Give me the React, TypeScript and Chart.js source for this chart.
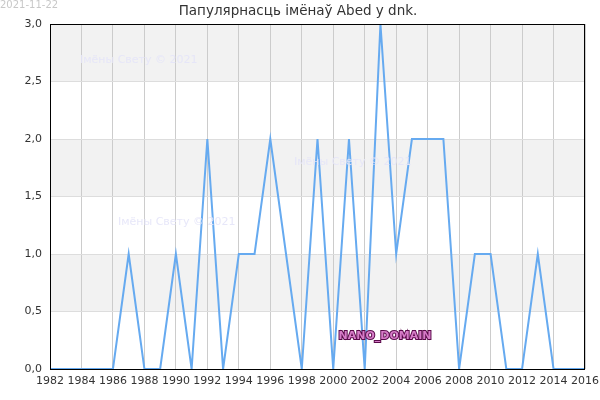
import React, { useEffect, useRef } from "react";
import { Chart, registerables } from "chart.js";

Chart.register(...registerables);

const years: number[] = [
  1982, 1983, 1984, 1985, 1986, 1987, 1988, 1989, 1990, 1991, 1992, 1993,
  1994, 1995, 1996, 1997, 1998, 1999, 2000, 2001, 2002, 2003, 2004, 2005,
  2006, 2007, 2008, 2009, 2010, 2011, 2012, 2013, 2014, 2015, 2016,
];
const values: number[] = [
  0, 0, 0, 0, 0, 1, 0, 0, 1, 0, 2, 0,
  1, 1, 2, 1, 0, 2, 0, 2, 0, 3, 1, 2,
  2, 2, 0, 1, 1, 0, 0, 1, 0, 0, 0,
];
const titleText = "Папулярнасць імёнаў Abed у dnk.";
const dateText = "2021-11-22";
const watermarkText = "Імёны Свету © 2021";
const domainText = "NANO_DOMAIN";
const bandEdges: number[] = [0, 0.5, 1, 1.5, 2, 2.5, 3];

const decorPlugin = {
  id: "decor",
  beforeDraw(chart: any) {
    const { ctx, chartArea, scales } = chart;
    const y = scales.y;
    ctx.save();
    for (let i = 0; i < bandEdges.length - 1; i++) {
      if (i % 2 === 1) {
        const top = y.getPixelForValue(bandEdges[i + 1]);
        const bot = y.getPixelForValue(bandEdges[i]);
        ctx.fillStyle = "#f2f2f2";
        ctx.fillRect(chartArea.left, top, chartArea.right - chartArea.left, bot - top);
      }
    }
    ctx.restore();
  },
  afterDatasetsDraw(chart: any) {
    const { ctx, chartArea } = chart;
    ctx.save();
    ctx.font = "11px 'DejaVu Sans', sans-serif";
    ctx.fillStyle = "rgba(228,228,248,0.9)";
    ctx.textBaseline = "middle";
    ctx.textAlign = "left";
    ctx.fillText(watermarkText, 80, 60);
    ctx.fillText(watermarkText, 118, 222);
    ctx.fillText(watermarkText, 294, 162);
    ctx.font = "bold 11px 'DejaVu Sans', sans-serif";
    ctx.textAlign = "center";
    ctx.lineWidth = 2;
    ctx.strokeStyle = "#5a0a4a";
    ctx.strokeText(domainText, 385, 336);
    ctx.fillStyle = "#d67cc8";
    ctx.fillText(domainText, 385, 336);
    ctx.strokeStyle = "#000";
    ctx.lineWidth = 1;
    ctx.strokeRect(
      Math.round(chartArea.left) + 0.5,
      Math.round(chartArea.top) + 0.5,
      Math.round(chartArea.right - chartArea.left) - 1,
      Math.round(chartArea.bottom - chartArea.top)
    );
    ctx.restore();
  },
  afterDraw(chart: any) {
    const { ctx } = chart;
    ctx.save();
    ctx.font = "13.5px 'DejaVu Sans', sans-serif";
    ctx.fillStyle = "#333";
    ctx.textAlign = "center";
    ctx.textBaseline = "middle";
    ctx.fillText(titleText, 298, 11);
    ctx.font = "10px 'DejaVu Sans', sans-serif";
    ctx.fillStyle = "#c8c8c8";
    ctx.textAlign = "left";
    ctx.fillText(dateText, 0, 5);
    ctx.restore();
  },
};

export default function App() {
  const ref = useRef<HTMLCanvasElement>(null);
  useEffect(() => {
    if (!ref.current) return;
    const chart = new Chart(ref.current, {
      type: "line",
      data: {
        datasets: [
          {
            data: years.map((yr, i) => ({ x: yr, y: values[i] })),
            borderColor: "#66aaf0",
            borderWidth: 2,
            pointRadius: 0,
            fill: false,
            tension: 0,
          },
        ],
      },
      options: {
        animation: false,
        responsive: false,
        maintainAspectRatio: false,
        layout: { padding: { top: 24, right: 15, left: 0, bottom: 0 } },
        plugins: {
          legend: { display: false },
          tooltip: { enabled: false },
          title: { display: false },
        },
        scales: {
          x: {
            type: "linear",
            min: 1982,
            max: 2016,
            border: { display: false },
            grid: { color: "#cccccc", drawTicks: false },
            ticks: {
              stepSize: 2,
              autoSkip: false,
              maxRotation: 0,
              padding: 6,
              color: "#333",
              font: { family: "'DejaVu Sans', sans-serif", size: 11 },
              callback: (v: any) => String(v),
            },
            afterFit: (s: any) => {
              s.height = 31;
              s.paddingLeft = 0;
              s.paddingRight = 0;
            },
          },
          y: {
            min: 0,
            max: 3,
            border: { display: false },
            grid: { color: "#dddddd", drawTicks: false },
            ticks: {
              stepSize: 0.5,
              padding: 8,
              color: "#333",
              font: { family: "'DejaVu Sans', sans-serif", size: 11 },
              callback: (v: any) => Number(v).toFixed(1).replace(".", ","),
            },
            afterFit: (s: any) => {
              s.width = 50;
              s.paddingTop = 0;
              s.paddingBottom = 0;
            },
          },
        },
      } as any,
      plugins: [decorPlugin],
    });
    return () => chart.destroy();
  }, []);
  return (
    <div style={{ position: "absolute", left: 0, top: 0, width: 600, height: 400, background: "#fff" }}>
      <canvas ref={ref} width={600} height={400} />
    </div>
  );
}
